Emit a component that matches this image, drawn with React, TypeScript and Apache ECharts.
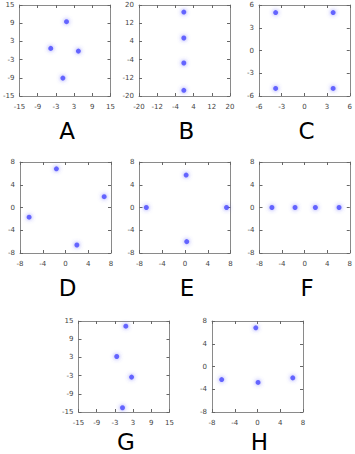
import React, { useEffect, useRef } from "react";
import * as echarts from "echarts";

// Panel names and axis settings
const panelNames = ["A", "B", "C", "D", "E", "F", "G", "H"];
const ticksA = [-15, -9, -3, 3, 9, 15];
const ticksB = [-20, -12, -4, 4, 12, 20];
const ticksC = [-6, -3, 0, 3, 6];
const ticks8 = [-8, -4, 0, 4, 8];
const panelTicks = [ticksA, ticksB, ticksC, ticks8, ticks8, ticks8, ticksA, ticks8];

// Points per panel [x, y]
const pointsA = [[0.5, 9.5], [-4.7, 0.7], [4.4, -0.2], [-0.7, -9.1]];
const pointsB = [[-0.3, 16.9], [-0.3, 5.5], [-0.3, -5.5], [-0.3, -17.5]];
const pointsC = [[-3.8, 5.0], [3.8, 5.0], [-3.8, -5.0], [3.8, -5.0]];
const pointsD = [[-1.6, 6.8], [6.8, 1.9], [-6.4, -1.7], [2.0, -6.6]];
const pointsE = [[0.2, 5.7], [-6.8, 0.0], [7.3, 0.0], [0.3, -6.0]];
const pointsF = [[-5.8, 0.0], [-1.7, 0.0], [1.9, 0.0], [6.1, 0.0]];
const pointsG = [[0.6, 13.3], [-2.4, 3.3], [2.5, -3.5], [-0.5, -13.6]];
const pointsH = [[-0.3, 6.8], [-6.3, -2.3], [0.1, -2.8], [6.2, -2.0]];
const panelPoints = [pointsA, pointsB, pointsC, pointsD, pointsE, pointsF, pointsG, pointsH];

// Layout (pixels)
const gridBoxes = [
  [19.5, 5], [139, 5], [259, 5],
  [20, 162], [139.5, 162], [259.5, 162],
  [78.5, 321], [212, 321],
];
const labelOffsets = [35, 35, 35, 35, 35, 35, 30, 30];
const BOX = 91;

export default function App() {
  const ref = useRef<HTMLDivElement>(null);
  useEffect(() => {
    if (!ref.current) return;
    const chart = echarts.init(ref.current, undefined, { renderer: "svg" });
    const grid: any[] = [];
    const xAxis: any[] = [];
    const yAxis: any[] = [];
    const series: any[] = [];
    const graphic: any[] = [];
    const lineColor = "#8a8a8a";
    const labelStyle = { color: "#444", fontSize: 7, fontFamily: "DejaVu Sans" };
    panelNames.forEach((name, i) => {
      const [l, t] = gridBoxes[i];
      const ticks = panelTicks[i];
      const lo = ticks[0];
      const hi = ticks[ticks.length - 1];
      grid.push({ left: l, top: t, width: BOX, height: BOX, containLabel: false });
      const common = {
        gridIndex: i,
        type: "value",
        min: lo,
        max: hi,
        splitLine: { show: false },
        axisLine: { show: true, onZero: false, lineStyle: { color: lineColor, width: 1 } },
        axisTick: { show: true, inside: true, length: 3, customValues: ticks, lineStyle: { color: "#666" } },
      };
      xAxis.push({
        ...common,
        position: "bottom",
        axisLabel: { show: true, customValues: ticks, margin: 7, ...labelStyle },
      });
      xAxis.push({ ...common, position: "top", axisLabel: { show: false } });
      yAxis.push({
        ...common,
        position: "left",
        axisLabel: { show: true, customValues: ticks, margin: 5, ...labelStyle },
      });
      yAxis.push({ ...common, position: "right", axisLabel: { show: false } });
      series.push({
        type: "scatter",
        xAxisIndex: 2 * i,
        yAxisIndex: 2 * i,
        data: panelPoints[i],
        symbolSize: 5,
        itemStyle: {
          color: "#4a4aff",
          shadowBlur: 4,
          shadowColor: "rgba(90,90,255,0.9)",
        },
      });
      graphic.push({
        type: "text",
        x: l + BOX / 2 + 2,
        y: t + BOX + labelOffsets[i],
        style: {
          text: name,
          fontSize: 23,
          lineHeight: 21,
          fontFamily: "DejaVu Sans",
          fill: "#000",
          textAlign: "center",
          textVerticalAlign: "middle",
        },
      });
    });
    chart.setOption({
      animation: false,
      backgroundColor: "#fff",
      grid,
      xAxis,
      yAxis,
      series,
      graphic,
    });
    return () => chart.dispose();
  }, []);
  return (
    <div
      ref={ref}
      style={{ position: "fixed", left: 0, top: 0, width: 355, height: 454 }}
    />
  );
}
